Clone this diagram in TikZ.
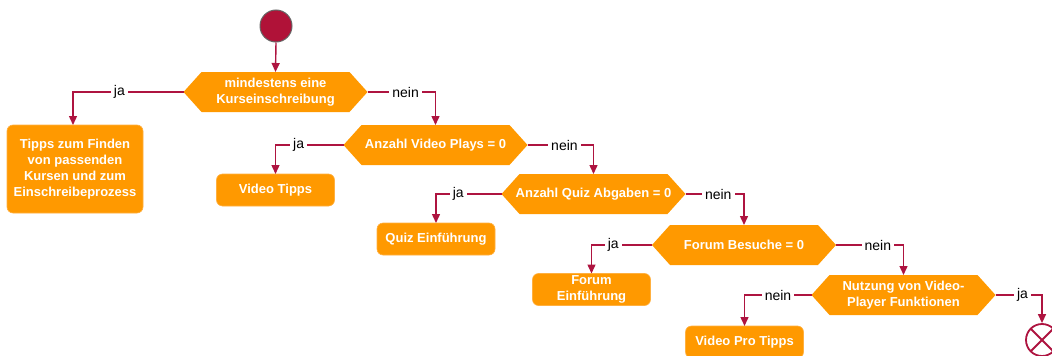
\documentclass[tikz,border=0pt]{standalone}
\usepackage{fontspec}
\setmainfont{Liberation Sans}
\usetikzlibrary{arrows.meta,backgrounds}
\definecolor{act}{HTML}{FF9900}
\definecolor{actedge}{HTML}{FFB040}
\definecolor{flow}{HTML}{AE1440}
\definecolor{startfill}{HTML}{B01238}
\definecolor{startedge}{HTML}{666666}
\begin{document}
\begin{tikzpicture}[x=1pt,y=-1pt,
  txt/.style={font=\bfseries\fontsize{13}{16}\selectfont, text=white, align=center},
  decision/.style={txt, minimum width=184pt, minimum height=40pt, inner sep=0pt, outer sep=0pt},
  action/.style={txt, fill=act, draw=actedge, line width=0.6pt, rounded corners=6pt,
                 minimum width=118pt, minimum height=32pt, inner sep=0pt, outer sep=0pt},
  edge/.style={draw=flow, line width=1.4pt, -{Triangle[length=9pt,width=8pt]}},
  lbl/.style={fill=white, text=black, font=\fontsize{14}{16}\selectfont, inner sep=3pt},
]
\useasboundingbox (0,0) rectangle (1052,356);

% start and end
\node[circle, fill=startfill, draw=startedge, line width=1pt, minimum size=32pt, inner sep=0pt] (s) at (276,26) {};
\node[circle, draw=flow, line width=1.8pt, fill=white, minimum size=32pt, inner sep=0pt,
      path picture={\draw[flow, line width=1.8pt]
        (path picture bounding box.north west) -- (path picture bounding box.south east)
        (path picture bounding box.north east) -- (path picture bounding box.south west);}] (e) at (1042,340) {};

% decisions
\node[decision] (d1) at (275.5,92) {mindestens eine\\Kurseinschreibung};
\node[decision] (d2) at (435.5,145) {Anzahl Video Plays = 0};
\node[decision] (d3) at (593.5,194) {Anzahl Quiz Abgaben = 0};
\node[decision] (d4) at (744,245) {Forum Besuche = 0};
\node[decision] (d5) at (903.5,295) {Nutzung von Video-\\Player Funktionen};

% actions
\node[action, minimum width=136pt, minimum height=88pt] (b1) at (75,169)
  {Tipps zum Finden\\von passenden\\Kursen und zum\\Einschreibeprozess};
\node[action] (b2) at (275.5,190) {Video Tipps};
\node[action] (b3) at (436,239) {Quiz Einführung};
\node[action] (b4) at (591.5,289.5) {Forum\\Einführung};
\node[action] (b5) at (744.5,342) {Video Pro Tipps};

% hexagon outlines of the decisions
\begin{scope}[on background layer]
  \foreach \i in {1,...,5}
    \fill[act] (d\i.west) -- ([xshift=18pt]d\i.north west) -- ([xshift=-18pt]d\i.north east)
      -- (d\i.east) -- ([xshift=-18pt]d\i.south east) -- ([xshift=18pt]d\i.south west) -- cycle;
\end{scope}

% flow
\draw[edge] (s.south) -- (d1.north);
\draw[edge] (d1.west) -| node[lbl, pos=0.29] {ja} ([xshift=-2pt]b1.north);
\draw[edge] (d1.east) -| node[lbl, pos=0.28] {nein} (d2.north);
\draw[edge] (d2.west) -| node[lbl, pos=0.33] {ja} (b2.north);
\draw[edge] (d2.east) -| node[lbl, pos=0.28] {nein} (d3.north);
\draw[edge] (d3.west) -| node[lbl, pos=0.33] {ja} (b3.north);
\draw[edge] (d3.east) -| node[lbl, pos=0.28] {nein} (d4.north);
\draw[edge] (d4.west) -| node[lbl, pos=0.32] {ja} (b4.north);
\draw[edge] (d4.east) -| node[lbl, pos=0.31] {nein} (d5.north);
\draw[edge] (d5.west) -| node[lbl, pos=0.25] {nein} (b5.north);
\draw[edge] (d5.east) -| node[lbl, pos=0.29] {ja} (e.north);
\end{tikzpicture}
\end{document}
